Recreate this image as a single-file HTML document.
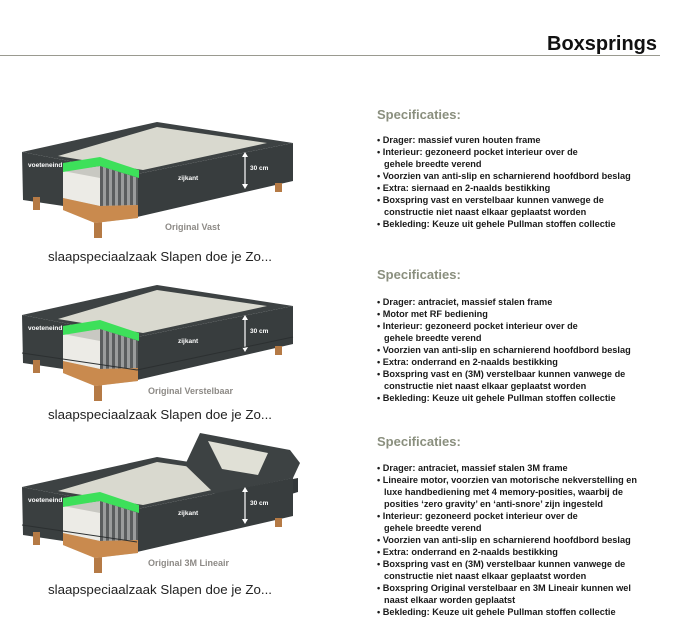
<!DOCTYPE html>
<html><head><meta charset="utf-8"><style>
html,body{margin:0;padding:0;background:#fff;}
svg{display:block;font-family:"Liberation Sans",sans-serif;}
.sp{font-size:9.2px;font-weight:bold;fill:#1a1a1a;}
.hd{font-size:13px;font-weight:bold;fill:#8a8f7e;}
.cap{font-size:13.3px;fill:#222;}
.org{font-size:9px;font-weight:bold;fill:#8d8a86;}
.wl{font-size:6.5px;font-weight:bold;fill:#fff;}
</style></head><body>
<svg width="700" height="642" viewBox="0 0 700 642" xmlns="http://www.w3.org/2000/svg">
<defs>
<pattern id="spr" width="6" height="8" patternUnits="userSpaceOnUse">
<rect width="6" height="8" fill="#5a5d5e"/><rect x="1" y="0" width="3" height="8" fill="#9a9c9c"/>
</pattern>
<g id="bedbody">
<polygon points="22,152 157,122 293,143 137,174" fill="#3d4243"/>
<polygon points="58,156 157,127 267,143 143,170" fill="#d9d9cf"/>
</g>
<g id="bedfront">
<polygon points="22,152 137,174 137,217 23,200" fill="#3a3f40"/>
<polygon points="137,174 293,143 293,181 137,217" fill="#383d3e"/>
<rect x="33" y="197" width="7" height="13" fill="#b57a45"/>
<rect x="94" y="222" width="8" height="16" fill="#b57a45"/>
<rect x="275" y="183" width="7" height="9" fill="#b57a45"/>
<polygon points="63,171 100,166 138,178 138,218 95,223 63,210" fill="#c8c8c2"/>
<polygon points="63,171 100,178 100,206 63,198" fill="#ecebe6"/>
<polygon points="100,166 138,178 138,205 100,206" fill="url(#spr)"/>
<polygon points="63,163 100,157 139,170 139,178 100,166 63,172" fill="#3de05a"/>
<polygon points="63,198 100,206 138,205 138,218 95,223 63,210" fill="#c98a4e"/>
<line x1="245" y1="154" x2="245" y2="187" stroke="#fff" stroke-width="1.2"/>
<polygon points="242,157 245,152 248,157" fill="#fff"/>
<polygon points="242,184 245,189 248,184" fill="#fff"/>
<text x="28" y="167" class="wl">voeteneind</text>
<text x="178" y="180" class="wl">zijkant</text>
<text x="250" y="170" class="wl">30 cm</text>
</g>
</defs>
<text x="547" y="50" font-size="20" font-weight="bold" fill="#111">Boxsprings</text>
<line x1="0" y1="55.5" x2="660" y2="55.5" stroke="#9a9a90" stroke-width="1"/>

<use href="#bedbody"/><use href="#bedfront"/>
<text x="165" y="230" class="org">Original Vast</text>
<text x="48" y="261" class="cap">slaapspeciaalzaak Slapen doe je Zo...</text>

<g transform="translate(0,163)">
<use href="#bedbody"/><use href="#bedfront"/>
<line x1="22" y1="190" x2="137" y2="207" stroke="#2c3031" stroke-width="1"/>
<line x1="137" y1="207" x2="293" y2="174" stroke="#2c3031" stroke-width="1"/>
</g>
<text x="148" y="394" class="org">Original Verstelbaar</text>
<text x="48" y="419" class="cap">slaapspeciaalzaak Slapen doe je Zo...</text>

<g transform="translate(0,335)">
<use href="#bedbody"/>
<polygon points="288,145 298,143 298,157 288,160" fill="#33383a"/>
<polygon points="185,130 200,98 290,115 300,128 293,143 215,159" fill="#3d4243"/>
<polygon points="208,106 268,118 258,140 222,134" fill="#e0e0d6"/>
<use href="#bedfront"/>
<line x1="22" y1="190" x2="137" y2="207" stroke="#2c3031" stroke-width="1"/>
</g>
<text x="148" y="566" class="org">Original 3M Lineair</text>
<text x="48" y="594" class="cap">slaapspeciaalzaak Slapen doe je Zo...</text>

<text x="377" y="119" class="hd">Specificaties:</text>
<g class="sp">
<text x="377" y="143">• Drager: massief vuren houten frame</text>
<text x="377" y="155">• Interieur: gezoneerd pocket interieur over de</text>
<text x="384" y="167">gehele breedte verend</text>
<text x="377" y="179">• Voorzien van anti-slip en scharnierend hoofdbord beslag</text>
<text x="377" y="191">• Extra: siernaad en 2-naalds bestikking</text>
<text x="377" y="203">• Boxspring vast en verstelbaar kunnen vanwege de</text>
<text x="384" y="215">constructie niet naast elkaar geplaatst worden</text>
<text x="377" y="227">• Bekleding: Keuze uit gehele Pullman stoffen collectie</text>
</g>

<text x="377" y="279" class="hd">Specificaties:</text>
<g class="sp">
<text x="377" y="305">• Drager: antraciet, massief stalen frame</text>
<text x="377" y="317">• Motor met RF bediening</text>
<text x="377" y="329">• Interieur: gezoneerd pocket interieur over de</text>
<text x="384" y="341">gehele breedte verend</text>
<text x="377" y="353">• Voorzien van anti-slip en scharnierend hoofdbord beslag</text>
<text x="377" y="365">• Extra: onderrand en 2-naalds bestikking</text>
<text x="377" y="377">• Boxspring vast en (3M) verstelbaar kunnen vanwege de</text>
<text x="384" y="389">constructie niet naast elkaar geplaatst worden</text>
<text x="377" y="401">• Bekleding: Keuze uit gehele Pullman stoffen collectie</text>
</g>

<text x="377" y="446" class="hd">Specificaties:</text>
<g class="sp">
<text x="377" y="471">• Drager: antraciet, massief stalen 3M frame</text>
<text x="377" y="483">• Lineaire motor, voorzien van motorische nekverstelling en</text>
<text x="384" y="495">luxe handbediening met 4 memory-posities, waarbij de</text>
<text x="384" y="507">posities ‘zero gravity’ en ‘anti-snore’ zijn ingesteld</text>
<text x="377" y="519">• Interieur: gezoneerd pocket interieur over de</text>
<text x="384" y="531">gehele breedte verend</text>
<text x="377" y="543">• Voorzien van anti-slip en scharnierend hoofdbord beslag</text>
<text x="377" y="555">• Extra: onderrand en 2-naalds bestikking</text>
<text x="377" y="567">• Boxspring vast en (3M) verstelbaar kunnen vanwege de</text>
<text x="384" y="579">constructie niet naast elkaar geplaatst worden</text>
<text x="377" y="591">• Boxspring Original verstelbaar en 3M Lineair kunnen wel</text>
<text x="384" y="603">naast elkaar worden geplaatst</text>
<text x="377" y="615">• Bekleding: Keuze uit gehele Pullman stoffen collectie</text>
</g>
</svg>
</body></html>
